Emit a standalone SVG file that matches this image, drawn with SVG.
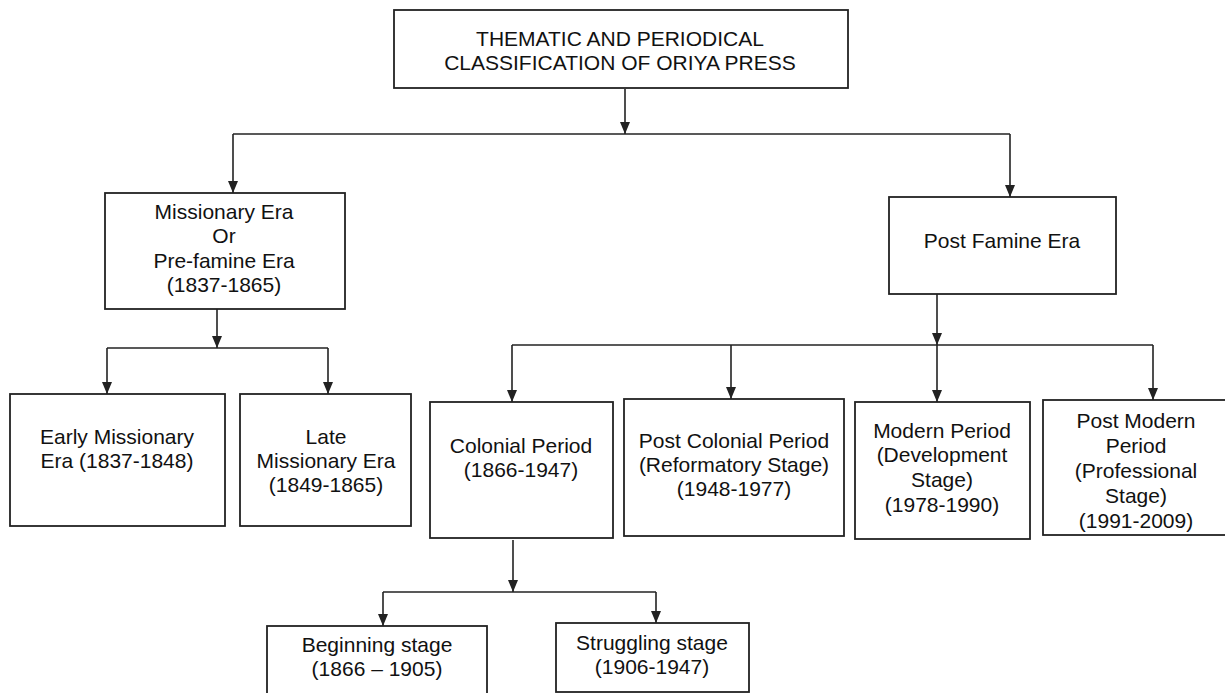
<svg xmlns="http://www.w3.org/2000/svg" width="1225" height="693" viewBox="0 0 1225 693">
<style>
.box{fill:#fff;stroke:#222;stroke-width:1.8}
.ln{fill:none;stroke:#222;stroke-width:1.6}
.ah{fill:#222}
text{font-family:"Liberation Sans",Arial,sans-serif;font-size:21px;fill:#111;text-anchor:middle}
</style>
<rect width="1225" height="693" fill="#fff"/>
<g id="connectors">
<path class="ln" d="M625,89V134"/>
<line class="ln" x1="233" y1="134" x2="1010" y2="134"/>
<path class="ln" d="M233,134V193"/>
<path class="ln" d="M1010,134V197"/>
<path class="ln" d="M217,309V348"/>
<line class="ln" x1="107" y1="348" x2="328" y2="348"/>
<path class="ln" d="M107,348V394"/>
<path class="ln" d="M328,348V394"/>
<path class="ln" d="M937,294V345"/>
<line class="ln" x1="512" y1="345" x2="1153" y2="345"/>
<path class="ln" d="M512,345V402"/>
<path class="ln" d="M731,345V399"/>
<path class="ln" d="M937,345V402"/>
<path class="ln" d="M1153,345V400"/>
<path class="ln" d="M513,540V592"/>
<line class="ln" x1="383" y1="592" x2="656" y2="592"/>
<path class="ln" d="M383,592V626"/>
<path class="ln" d="M656,592V623"/>
<g class="ah">
<path d="M620,122h10l-5,12z"/>
<path d="M228,181h10l-5,12z"/>
<path d="M1005,185h10l-5,12z"/>
<path d="M212,336h10l-5,12z"/>
<path d="M102,382h10l-5,12z"/>
<path d="M323,382h10l-5,12z"/>
<path d="M932,333h10l-5,12z"/>
<path d="M507,390h10l-5,12z"/>
<path d="M726,387h10l-5,12z"/>
<path d="M932,390h10l-5,12z"/>
<path d="M1148,388h10l-5,12z"/>
<path d="M508,580h10l-5,12z"/>
<path d="M378,614h10l-5,12z"/>
<path d="M651,611h10l-5,12z"/>
</g>
</g>
<g id="root">
<rect class="box" x="394" y="10" width="454" height="78"/>
<text x="620" y="46">THEMATIC AND PERIODICAL</text>
<text x="620" y="70">CLASSIFICATION OF ORIYA PRESS</text>
</g>
<g id="missionary">
<rect class="box" x="105" y="193" width="240" height="116"/>
<text x="224" y="219">Missionary Era</text>
<text x="224" y="243">Or</text>
<text x="224" y="268">Pre-famine Era</text>
<text x="224" y="292">(1837-1865)</text>
</g>
<g id="postfamine">
<rect class="box" x="889" y="197" width="227" height="97"/>
<text x="1002" y="248">Post Famine Era</text>
</g>
<g id="early">
<rect class="box" x="10" y="394" width="215" height="132"/>
<text x="117" y="444">Early Missionary</text>
<text x="117" y="468">Era (1837-1848)</text>
</g>
<g id="late">
<rect class="box" x="240" y="394" width="171" height="132"/>
<text x="326" y="444">Late</text>
<text x="326" y="468">Missionary Era</text>
<text x="326" y="492">(1849-1865)</text>
</g>
<g id="colonial">
<rect class="box" x="430" y="402" width="183" height="136"/>
<text x="521" y="453">Colonial Period</text>
<text x="521" y="477">(1866-1947)</text>
</g>
<g id="postcolonial">
<rect class="box" x="624" y="399" width="220" height="137"/>
<text x="734" y="448">Post Colonial Period</text>
<text x="734" y="472">(Reformatory Stage)</text>
<text x="734" y="496">(1948-1977)</text>
</g>
<g id="modern">
<rect class="box" x="855" y="402" width="175" height="137"/>
<text x="942" y="438">Modern Period</text>
<text x="942" y="462">(Development</text>
<text x="942" y="487">Stage)</text>
<text x="942" y="512">(1978-1990)</text>
</g>
<g id="postmodern">
<rect class="box" x="1043" y="400" width="185" height="135"/>
<text x="1136" y="428">Post Modern</text>
<text x="1136" y="453">Period</text>
<text x="1136" y="478">(Professional</text>
<text x="1136" y="503">Stage)</text>
<text x="1136" y="528">(1991-2009)</text>
</g>
<g id="beginning">
<rect class="box" x="267" y="626" width="220" height="80"/>
<text x="377" y="652">Beginning stage</text>
<text x="377" y="676">(1866 – 1905)</text>
</g>
<g id="struggling">
<rect class="box" x="556" y="623" width="193" height="69"/>
<text x="652" y="650">Struggling stage</text>
<text x="652" y="674">(1906-1947)</text>
</g>
</svg>
